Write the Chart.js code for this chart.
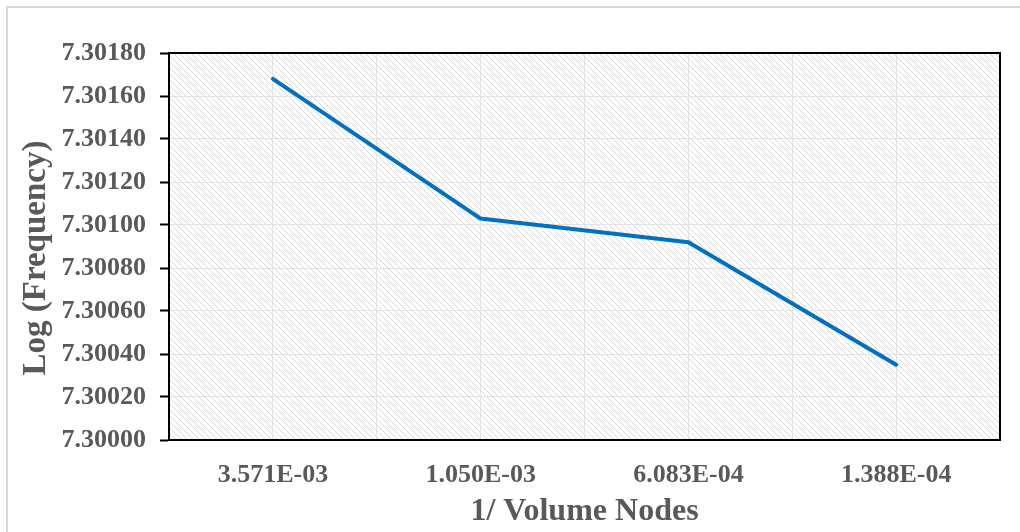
<!DOCTYPE html>
<html>
<head>
<meta charset="utf-8">
<script src="https://cdn.jsdelivr.net/npm/chart.js@4.4.1/dist/chart.umd.min.js"></script>
<style>
  html, body { margin: 0; padding: 0; background: #ffffff; }
  #wrap { width: 1020px; height: 532px; position: relative; }
</style>
</head>
<body>
<div id="wrap"><canvas id="c" width="1020" height="532"></canvas></div>
<script>
const categories = ["3.571E-03", "1.050E-03", "6.083E-04", "1.388E-04"];
const logFrequency = [7.30168, 7.30103, 7.30092, 7.30035];
const yTickMin = 7.30000;
const yTickMax = 7.30180;
const yTickStep = 0.00020;
const xAxisTitle = "1/ Volume Nodes";
const yAxisTitle = "Log (Frequency)  \u2009";

const textColor = "#595959";
const fontFamily = "'Liberation Serif', 'Times New Roman', serif";

function makeHatch() {
  const s = 6;
  const c = document.createElement('canvas');
  c.width = s; c.height = s;
  const g = c.getContext('2d');
  g.fillStyle = '#ffffff';
  g.fillRect(0, 0, s, s);
  g.strokeStyle = '#d8d8d8';
  g.lineWidth = 1;
  g.beginPath();
  g.moveTo(-1, -1); g.lineTo(s + 1, s + 1);
  g.moveTo(-1, s - 1); g.lineTo(1, s + 1);
  g.moveTo(s - 1, -1); g.lineTo(s + 1, 1);
  g.stroke();
  return c;
}

const framePlugin = {
  id: 'frame',
  beforeDraw(chart) {
    const { ctx, chartArea: a } = chart;
    ctx.save();
    ctx.strokeStyle = '#d9d9d9';
    ctx.lineWidth = 2;
    ctx.beginPath();
    ctx.moveTo(7, 532); ctx.lineTo(7, 7); ctx.lineTo(1020, 7);
    ctx.stroke();
    ctx.fillStyle = ctx.createPattern(makeHatch(), 'repeat');
    ctx.fillRect(a.left, a.top, a.right - a.left, a.bottom - a.top);
    ctx.restore();
  },
  afterDatasetsDraw(chart) {
    const { ctx, chartArea: a } = chart;
    ctx.save();
    ctx.strokeStyle = '#000000';
    ctx.lineWidth = 2;
    ctx.strokeRect(a.left, a.top, a.right - a.left, a.bottom - a.top);
    ctx.restore();
  }
};

const points = logFrequency.map((v, i) => ({ x: i, y: v }));

new Chart(document.getElementById('c'), {
  type: 'line',
  data: {
    datasets: [{
      data: points,
      borderColor: '#0070C0',
      borderWidth: 4,
      borderCapStyle: 'round',
      borderJoinStyle: 'round',
      pointRadius: 0,
      tension: 0,
      fill: false
    }]
  },
  options: {
    responsive: false,
    animation: false,
    devicePixelRatio: 1,
    layout: { padding: { top: 53, right: 19, bottom: 0, left: 0 } },
    plugins: { legend: { display: false }, tooltip: { enabled: false } },
    scales: {
      x: {
        type: 'linear',
        min: -0.5,
        max: categories.length - 0.5,
        afterBuildTicks(scale) {
          const t = [];
          for (let v = -0.5; v <= categories.length - 0.5 + 1e-9; v += 0.5) t.push({ value: v });
          scale.ticks = t;
        },
        afterFit(scale) { scale.height = 92; },
        grid: { color: '#e3e3e3', lineWidth: 1, drawTicks: false },
        border: { display: true, color: '#000000', width: 2 },
        ticks: {
          autoSkip: false,
          maxRotation: 0,
          padding: 20,
          color: textColor,
          font: { family: fontFamily, size: 26, weight: 'bold' },
          callback(value) {
            return Number.isInteger(value) ? categories[value] : '';
          }
        },
        title: {
          display: true,
          text: xAxisTitle,
          color: textColor,
          font: { family: fontFamily, size: 32, weight: 'bold' },
          padding: { top: 0, bottom: 1 }
        }
      },
      y: {
        type: 'linear',
        min: yTickMin,
        max: yTickMax,
        afterFit(scale) { scale.width = 169; },
        grid: { color: '#e3e3e3', lineWidth: 1, drawTicks: true, tickLength: 9, tickColor: '#000000', tickWidth: 2 },
        border: { display: true, color: '#000000', width: 2 },
        ticks: {
          stepSize: yTickStep,
          padding: 14,
          color: textColor,
          font: { family: fontFamily, size: 26, weight: 'bold' },
          callback(value) { return Number(value).toFixed(5); }
        },
        title: {
          display: true,
          text: yAxisTitle,
          color: textColor,
          font: { family: fontFamily, size: 33, weight: 'bold' },
          padding: { top: 17, bottom: 0 }
        }
      }
    }
  },
  plugins: [framePlugin]
});
</script>
</body>
</html>
